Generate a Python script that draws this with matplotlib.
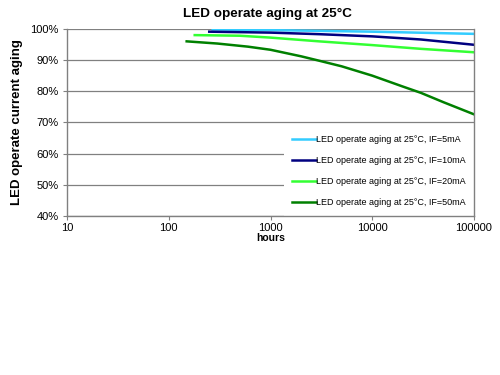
import matplotlib
matplotlib.use("Agg")
import matplotlib.pyplot as plt
from matplotlib.ticker import FixedLocator, FuncFormatter, NullLocator

plt.rcParams['font.family'] = ['Liberation Sans', 'DejaVu Sans']

labels = ["LED operate aging at 25°C, IF=5mA",
          "LED operate aging at 25°C, IF=10mA",
          "LED operate aging at 25°C, IF=20mA",
          "LED operate aging at 25°C, IF=50mA"]
colors = ["#33CCFF", "#000080", "#33FF33", "#008000"]

h_5 = [270, 1000, 10000, 100000]
v_5 = [99.8, 99.6, 99.1, 98.4]
h_10 = [250, 1000, 3000, 10000, 30000, 100000]
v_10 = [99.1, 98.8, 98.3, 97.6, 96.6, 94.9]
h_20 = [180, 500, 1000, 3000, 10000, 30000, 100000]
v_20 = [98.0, 97.8, 97.2, 96.0, 94.8, 93.6, 92.5]
h_50 = [150, 300, 600, 1000, 2000, 3000, 5000, 10000, 20000, 30000, 50000, 100000]
v_50 = [96.0, 95.3, 94.3, 93.3, 91.2, 89.8, 88.0, 85.0, 81.5, 79.5, 76.5, 72.6]

x_ticks = [10, 100, 1000, 10000, 100000]
y_ticks = [40, 50, 60, 70, 80, 90, 100]

fig = plt.figure(figsize=(5, 3.75), dpi=100)
ax = fig.add_axes([0.134, 0.424, 0.814, 0.499])

series = [(h_5, v_5), (h_10, v_10), (h_20, v_20), (h_50, v_50)]
for (h, v), c, lab in zip(series, colors, labels):
    ax.plot(h, v, color=c, lw=1.8, label=lab, zorder=3)

ax.set_xscale('log')
ax.set_xlim(10, 100000)
ax.set_ylim(40, 100)
ax.xaxis.set_major_locator(FixedLocator(x_ticks))
ax.xaxis.set_minor_locator(NullLocator())
ax.xaxis.set_major_formatter(FuncFormatter(lambda x, p: f"{int(round(x))}"))
ax.yaxis.set_major_locator(FixedLocator(y_ticks))
ax.yaxis.set_major_formatter(FuncFormatter(lambda y, p: f"{int(round(y))}%"))
ax.grid(axis='y', color='#808080', lw=0.9, zorder=1)
for s in ['left', 'bottom', 'right', 'top']:
    ax.spines[s].set_color('#808080')
    ax.spines[s].set_linewidth(1.0)
    ax.spines[s].set_zorder(5)
ax.spines['top'].set_visible(False)
ax.tick_params(axis='both', which='major', labelsize=8, length=3, color='#808080',
               direction='out')
ax.tick_params(axis='y', pad=3)
ax.tick_params(axis='x', pad=2)
ax.set_xlabel("hours", fontsize=7.5, fontweight='bold', labelpad=0)
ax.set_ylabel("LED operate current aging", fontsize=9.5, fontweight='bold', labelpad=5)
fig.suptitle("LED operate aging at 25°C", fontsize=9.7, fontweight='bold', y=0.978, x=0.535)

leg = ax.legend(loc='lower right', bbox_to_anchor=(1.0, 0.0), fontsize=6.5, frameon=True,
                facecolor='white', edgecolor='none', framealpha=1, fancybox=False,
                handlelength=2.6, handletextpad=0.0, labelspacing=1.35,
                borderpad=0.9, borderaxespad=0.05)
leg.set_zorder(2)

fig.savefig("out.png", dpi=100)
